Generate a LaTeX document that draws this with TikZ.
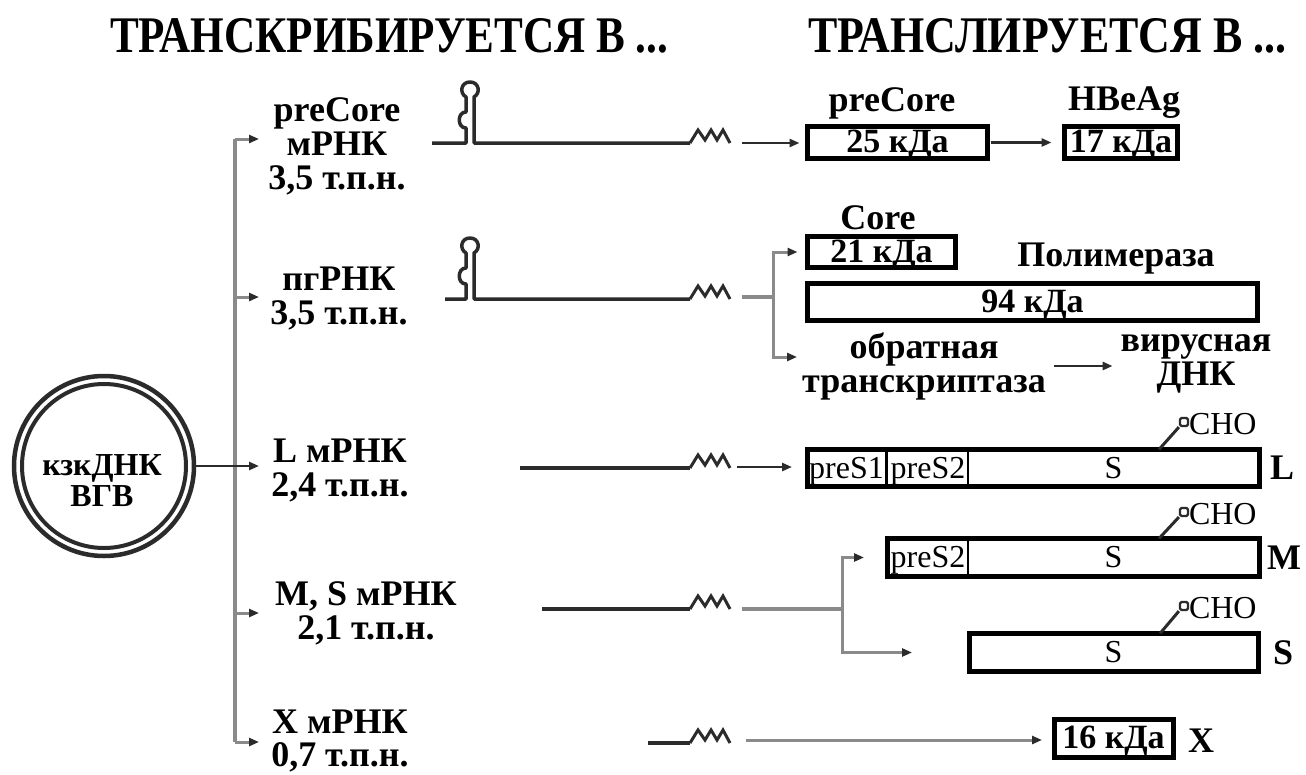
\documentclass[tikz,border=0pt]{standalone}
\usepackage{graphicx}
\usepackage{fontspec}
\setmainfont{Liberation Serif}
\usetikzlibrary{arrows.meta}
\definecolor{ink}{HTML}{2B2B2B}
\definecolor{lgray}{HTML}{8A8A8A}
\begin{document}
\begin{tikzpicture}[x=1pt,y=-1pt,
 lbl/.style={font=\fontsize{36}{34}\selectfont\bfseries, align=center, inner sep=0pt, outer sep=0pt},
 reg/.style={font=\fontsize{32}{34}\selectfont, inner sep=0pt, outer sep=0pt},
 prot/.style={draw=black, line width=5pt, fill=white, inner sep=0pt, outer sep=0pt, font=\fontsize{34}{34}\selectfont\bfseries, text height=25pt, text depth=5pt},
 seg/.style={draw=black, line width=2.5pt, fill=white, inner sep=0pt, outer sep=0pt, font=\fontsize{32}{34}\selectfont, text height=24pt, text depth=4pt},
 rna/.style={draw=ink, line width=3.5pt, line join=round},
 zz/.style={draw=ink, line width=3pt, line join=miter},
 gline/.style={draw=lgray, line width=3.5pt},
 arr/.style={draw=ink, line width=2.5pt, -{Triangle[length=10pt,width=8pt,color=ink]}},
 garr/.style={draw=lgray, line width=3pt, -{Triangle[length=10pt,width=8pt,color=ink]}},
 glyc/.style={draw=ink, line width=2.2pt, fill=white, inner sep=0pt, minimum size=8pt, rounded corners=1.5pt},
 stick/.style={draw=ink, line width=3pt}
]
\useasboundingbox (0,0) rectangle (1306,774);
\fill[white] (0,0) rectangle (1306,774);

% headers
\node[inner sep=0pt, anchor=north west] (h1) at (110,18) {\resizebox{558pt}{34pt}{\bfseries ТРАНСКРИБИРУЕТСЯ В ...}};
\node[inner sep=0pt, anchor=north west] (h2) at (808,18) {\resizebox{478pt}{34pt}{\bfseries ТРАНСЛИРУЕТСЯ В ...}};

% cccDNA
\node[circle, draw=ink, line width=4.5pt, minimum size=180pt, inner sep=0pt, outer sep=0pt] (dna) at (104,466) {};
\node[circle, draw=ink, line width=4pt, minimum size=164pt, inner sep=0pt, outer sep=0pt] (dnain) at (104,466) {};
\node[lbl, font=\fontsize{32}{31}\selectfont\bfseries] (dnat) at (102,481) {кзкДНК\\ВГВ};

% bar and branches
\coordinate (bt) at (235,139);
\coordinate (bb) at (235,742);
\draw[gline] (bt) -- (bb);
\coordinate (b2) at (235,297);
\coordinate (b4) at (235,613);
\coordinate (t1) at (259,139);
\coordinate (t2) at (259,297);
\coordinate (t3) at (259,466);
\coordinate (t4) at (259,613);
\coordinate (t5) at (259,742);
\draw[garr] (bt) -- (t1);
\draw[garr] (b2) -- (t2);
\draw[garr] (b4) -- (t4);
\draw[garr] (bb) -- (t5);
\draw[arr] (dna.east) -- (t3);

% transcript labels
\node[lbl, anchor=north] (lpc) at (337,98) {preCore\\мРНК\\3,5 т.п.н.};
\node[lbl, anchor=north] (lpg) at (339,267) {пгРНК\\3,5 т.п.н.};
\node[lbl, anchor=north] (lL) at (340,439) {L мРНК\\2,4 т.п.н.};
\node[lbl, anchor=north] (lMS) at (366,582) {M, S мРНК\\2,1 т.п.н.};
\node[lbl, anchor=north, font=\fontsize{36}{33}\selectfont\bfseries] (lX) at (340,710) {X мРНК\\0,7 т.п.н.};

% RNA molecules
\draw[rna] (432,143) -- (466,143) -- (466,128) .. controls (457,128) and (457,112) .. (466,112) -- (466,97) .. controls (459,93) and (461,82) .. (470,82) .. controls (479,82) and (481,93) .. (474,97) -- (474,143) -- (690,143);
\draw[zz] (690,143) -- ++(8,-13) -- ++(7,10) -- ++(6,-10) -- ++(6,10) -- ++(6,-10) -- ++(7,13);
\draw[rna] (445,299) -- (466,299) -- (466,284) .. controls (457,284) and (457,268) .. (466,268) -- (466,253) .. controls (459,249) and (461,238) .. (470,238) .. controls (479,238) and (481,249) .. (474,253) -- (474,299) -- (690,299);
\draw[zz] (690,299) -- ++(8,-13) -- ++(7,10) -- ++(6,-10) -- ++(6,10) -- ++(6,-10) -- ++(7,13);
\draw[rna] (520,468) -- (690,468);
\draw[zz] (690,468) -- ++(8,-13) -- ++(7,10) -- ++(6,-10) -- ++(6,10) -- ++(6,-10) -- ++(7,13);
\draw[rna] (542,609) -- (690,609);
\draw[zz] (690,609) -- ++(8,-13) -- ++(7,10) -- ++(6,-10) -- ++(6,10) -- ++(6,-10) -- ++(7,13);
\draw[rna] (648,743) -- (690,743);
\draw[zz] (690,743) -- ++(8,-13) -- ++(7,10) -- ++(6,-10) -- ++(6,10) -- ++(6,-10) -- ++(7,13);

% proteins: preCore / HBeAg
\node[prot, minimum width=180pt, minimum height=32pt] (b25) at (897.5,142.5) {25 кДа};
\node[prot, minimum width=113pt, minimum height=32pt] (b17) at (1121,142.5) {17 кДа};
\node[lbl] (npc) at (892,103) {preCore};
\node[lbl] (nhb) at (1124,103) {HBeAg};
\coordinate (preEnd) at (742,143);
\draw[arr, shorten >=8pt] (preEnd) -- (preEnd -| b25.west);
\draw[arr, shorten <=3pt, shorten >=13pt] (b25.east) -- (b17.west);

% pgRNA products
\node[prot, minimum width=148pt, minimum height=31pt] (b21) at (881.5,252) {21 кДа};
\node[lbl] (ncore) at (878,218) {Core};
\node[prot, line width=4.5pt, minimum width=450pt, minimum height=37pt] (b94) at (1032.5,302) {94 кДа};
\node[lbl] (npol) at (1116,259) {Полимераза};
\node[lbl] (rt) at (924,366) {обратная\\транскриптаза};
\node[lbl] (vd) at (1196,364) {вирусная\\ДНК};
\coordinate (pgEnd) at (742,297);
\coordinate (pgJ) at (773,297);
\coordinate (pgB) at (797,357);
\draw[gline] (pgEnd) -- (pgJ);
\draw[garr, shorten >=10pt] (pgJ) |- (b21.west);
\draw[garr] (pgJ) |- (pgB);
\draw[arr, shorten <=8pt, shorten >=8pt] (rt.east) -- (rt.east -| vd.west);

% L protein
\node[seg, minimum width=79pt, minimum height=37pt] (l1) at (846.5,468) {preS1};
\node[seg, minimum width=82pt, minimum height=37pt] (l2) at (928,468) {preS2};
\node[seg, minimum width=291pt, minimum height=37pt] (l3) at (1113.5,468) {S};
\draw[line width=5pt] (l1.north west) rectangle (l3.south east);
\node[lbl] (nL) at (1282,468) {L};
\coordinate (lEnd) at (737,467);
\draw[arr, shorten >=15pt] (lEnd) -- (lEnd -| l1.west);
\node[glyc] (gL) at (1184,422) {};
\node[reg, anchor=west] (cL) at (1189,424) {CHO};
\draw[stick] ([xshift=191pt]l3.north west) -- (gL.south west);

% M protein
\node[seg, minimum width=82pt, minimum height=38pt] (m1) at (928,557.5) {preS2};
\node[seg, minimum width=291pt, minimum height=38pt] (m2) at (1113.5,557.5) {S};
\draw[line width=5pt] (m1.north west) rectangle (m2.south east);
\node[lbl] (nM) at (1284,558) {M};
\node[glyc] (gM) at (1184,512) {};
\node[reg, anchor=west] (cM) at (1189,514) {CHO};
\draw[stick] ([xshift=191pt]m2.north west) -- (gM.south west);

% S protein
\node[seg, minimum width=289pt, minimum height=38pt] (s1) at (1113.5,652.5) {S};
\draw[line width=5pt] (s1.north west) rectangle (s1.south east);
\node[lbl] (nS) at (1283,653) {S};
\node[glyc] (gS) at (1184,606) {};
\node[reg, anchor=west] (cS) at (1189,608) {CHO};
\draw[stick] ([xshift=191pt]s1.north west) -- (gS.south west);

\coordinate (msEnd) at (742,609);
\coordinate (msJ) at (842,609);
\draw[gline] (msEnd) -- (msJ);
\draw[garr, shorten >=23pt] (msJ) |- (m1.west);
\draw[garr, shorten >=57pt] (msJ) |- (s1.west);

% X protein
\node[prot, minimum width=119pt, minimum height=38pt] (b16) at (1113.5,738.5) {16 кДа};
\node[lbl] (nX) at (1201,741) {X};
\coordinate (xEnd) at (746,740);
\draw[garr, shorten >=12pt] (xEnd) -- (xEnd -| b16.west);
\end{tikzpicture}
\end{document}
